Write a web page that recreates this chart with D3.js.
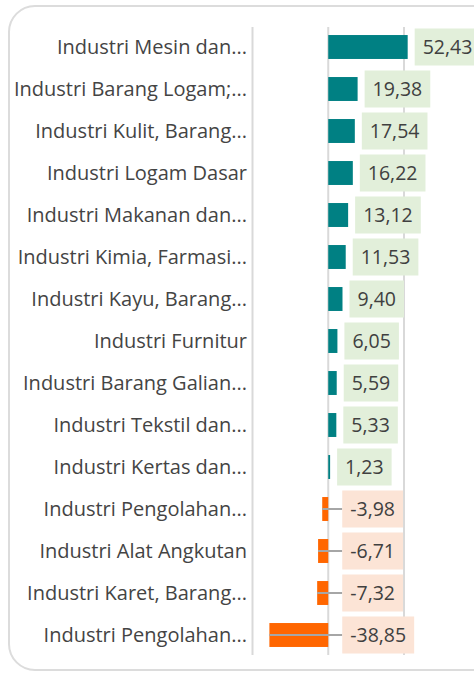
<!DOCTYPE html>
<html>
<head>
<meta charset="utf-8">
<script src="https://cdn.jsdelivr.net/npm/d3@7"></script>
<style>
  body { margin: 0; background: #fff; }
  text { font-family: "Open Sans", sans-serif; }
</style>
</head>
<body>
<svg></svg>
<script>
const categories = [
    "Industri Mesin dan...",
    "Industri Barang Logam;...",
    "Industri Kulit, Barang...",
    "Industri Logam Dasar",
    "Industri Makanan dan...",
    "Industri Kimia, Farmasi...",
    "Industri Kayu, Barang...",
    "Industri Furnitur",
    "Industri Barang Galian...",
    "Industri Tekstil dan...",
    "Industri Kertas dan...",
    "Industri Pengolahan...",
    "Industri Alat Angkutan",
    "Industri Karet, Barang...",
    "Industri Pengolahan..."
];
const values = [52.43, 19.38, 17.54, 16.22, 13.12, 11.53, 9.40, 6.05, 5.59, 5.33, 1.23, -3.98, -6.71, -7.32, -38.85];
const ticks = [-50, 0, 50];

const width = 474, height = 674;

const svg = d3.select("svg")
    .attr("width", width)
    .attr("height", height);

// card
svg.append("rect")
    .attr("x", 9).attr("y", 6)
    .attr("width", 490).attr("height", 664)
    .attr("rx", 26)
    .attr("fill", "#fff")
    .attr("stroke", "#dcdcdc")
    .attr("stroke-width", 2);

const x = d3.scaleLinear().domain([-50, 50]).range([252.5, 404]);
const y = d3.scaleBand()
    .domain(d3.range(categories.length))
    .range([26, 656])
    .paddingInner(0.43)
    .paddingOuter(0.215);

const fmt = d => d3.format(".2f")(d).replace(".", ",").replace("\u2212", "-");

// gridlines
svg.append("g").selectAll("line")
    .data(ticks)
    .join("line")
    .attr("x1", d => x(d)).attr("x2", d => x(d))
    .attr("y1", 27).attr("y2", 655)
    .attr("stroke", "#d9d9d9")
    .attr("stroke-width", 2);

// category labels
svg.append("g").selectAll("text")
    .data(categories)
    .join("text")
    .attr("x", 247)
    .attr("y", (d, i) => y(i) + y.bandwidth() / 2)
    .attr("dy", "0.35em")
    .attr("text-anchor", "end")
    .attr("font-size", 20)
    .attr("fill", "#444")
    .text(d => d);

// bars
svg.append("g").selectAll("rect")
    .data(values)
    .join("rect")
    .attr("x", d => x(Math.min(0, d)))
    .attr("y", (d, i) => y(i))
    .attr("width", d => Math.abs(x(d) - x(0)))
    .attr("height", y.bandwidth())
    .attr("fill", d => d >= 0 ? "#008083" : "#ff6600");

// value labels
const boxH = 37;
const lab = svg.append("g").selectAll("g")
    .data(values)
    .join("g")
    .attr("transform", (d, i) => {
        const bx = d >= 0 ? x(d) + 7 : x(0) + 14;
        return `translate(${bx},${y(i) + y.bandwidth() / 2})`;
    });

// leader lines for negatives
lab.filter(d => d < 0).append("line")
    .attr("x1", d => x(d) - (x(0) + 14))
    .attr("x2", 0)
    .attr("y1", 0).attr("y2", 0)
    .attr("stroke", "#a6a6a6")
    .attr("stroke-width", 2);

lab.append("rect")
    .attr("y", -boxH / 2)
    .attr("height", boxH)
    .attr("fill", d => d >= 0 ? "#e2efda" : "#fce4d6");

lab.append("text")
    .attr("dy", "0.35em")
    .attr("font-size", 19.5)
    .attr("fill", "#404040")
    .attr("text-anchor", "middle")
    .text(d => fmt(d));

lab.each(function() {
    const g = d3.select(this);
    const w = g.select("text").node().getComputedTextLength() + 16;
    g.select("rect").attr("width", w);
    g.select("text").attr("x", w / 2);
});
</script>
</body>
</html>
